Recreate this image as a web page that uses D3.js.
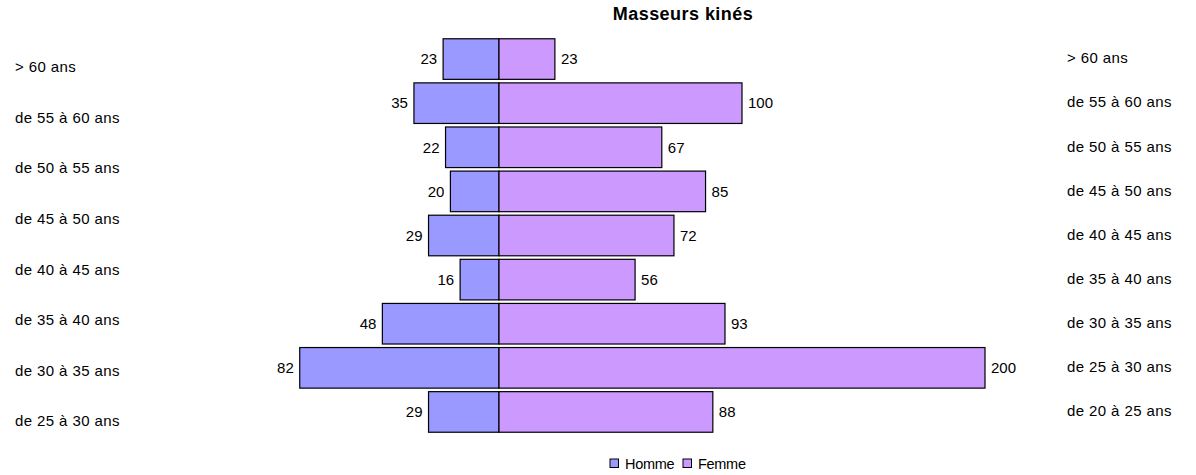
<!DOCTYPE html>
<html>
<head>
<meta charset="utf-8">
<script src="https://cdn.jsdelivr.net/npm/d3@7"></script>
<style>
  body { margin: 0; background: #fff; }
  text { font-family: "Liberation Sans", Arial, sans-serif; fill: #000; }
</style>
</head>
<body>
<svg width="1196" height="475"></svg>
<script>
const categories = ['> 60 ans', 'de 55 à 60 ans', 'de 50 à 55 ans', 'de 45 à 50 ans', 'de 40 à 45 ans',
  'de 35 à 40 ans', 'de 30 à 35 ans', 'de 25 à 30 ans', 'de 20 à 25 ans']
const homme = [23, 35, 22, 20, 29, 16, 48, 82, 29]
const femme = [23, 100, 67, 85, 72, 56, 93, 200, 88]
// the left-hand labels of the original are shifted and stop one row early
const leftLabels = ['> 60 ans', 'de 55 à 60 ans', 'de 50 à 55 ans', 'de 45 à 50 ans', 'de 40 à 45 ans',
  'de 35 à 40 ans', 'de 30 à 35 ans', 'de 25 à 30 ans']
const seriesNames = ['Homme', 'Femme']
const colors = {Homme: '#9999ff', Femme: '#cc99ff'}

const svg = d3.select('svg')
const x0 = 499

const xScale = d3.scaleLinear()
  .domain([0, 200])
  .range([0, 486])

const yScale = d3.scaleBand()
  .domain(categories)
  .range([37, 434])
  .paddingInner(0.08)
  .paddingOuter(0.04)

const leftScale = d3.scalePoint()
  .domain(leftLabels)
  .range([67, 421])

const data = categories.map((c, i) => ({cat: c, h: homme[i], f: femme[i]}))

svg.append('text')
  .attr('x', 683)
  .attr('y', 20)
  .attr('text-anchor', 'middle')
  .style('font-size', '18px')
  .style('font-weight', 'bold')
  .style('letter-spacing', '0.45px')
  .text('Masseurs kinés')

const rows = svg.append('g')

rows.selectAll('rect.h')
  .data(data)
  .enter()
  .append('rect')
  .attr('class', 'h')
  .attr('x', d => x0 - xScale(d.h))
  .attr('y', d => yScale(d.cat))
  .attr('width', d => xScale(d.h))
  .attr('height', yScale.bandwidth())
  .attr('fill', colors.Homme)
  .attr('stroke', '#000')
  .attr('stroke-width', 1.2)

rows.selectAll('rect.f')
  .data(data)
  .enter()
  .append('rect')
  .attr('class', 'f')
  .attr('x', x0)
  .attr('y', d => yScale(d.cat))
  .attr('width', d => xScale(d.f))
  .attr('height', yScale.bandwidth())
  .attr('fill', colors.Femme)
  .attr('stroke', '#000')
  .attr('stroke-width', 1.2)

rows.selectAll('text.hv')
  .data(data)
  .enter()
  .append('text')
  .attr('x', d => x0 - xScale(d.h) - 6)
  .attr('y', d => yScale(d.cat) + yScale.bandwidth() / 2)
  .attr('dy', '0.35em')
  .attr('text-anchor', 'end')
  .style('font-size', '15px')
  .text(d => d.h)

rows.selectAll('text.fv')
  .data(data)
  .enter()
  .append('text')
  .attr('x', d => x0 + xScale(d.f) + 6)
  .attr('y', d => yScale(d.cat) + yScale.bandwidth() / 2)
  .attr('dy', '0.35em')
  .style('font-size', '15px')
  .text(d => d.f)

// right labels follow the bars
svg.append('g').selectAll('text')
  .data(categories)
  .enter()
  .append('text')
  .attr('x', 1067)
  .attr('y', d => yScale(d) + yScale.bandwidth() / 2 - 1)
  .attr('dy', '0.35em')
  .style('font-size', '15px')
  .style('letter-spacing', '0.4px')
  .text(d => d)

// left labels on their own spacing
svg.append('g').selectAll('text')
  .data(leftLabels)
  .enter()
  .append('text')
  .attr('x', 15)
  .attr('y', d => leftScale(d))
  .attr('dy', '0.35em')
  .style('font-size', '15px')
  .style('letter-spacing', '0.4px')
  .text(d => d)

const legend = svg.append('g')
const legendX = [610, 683]
seriesNames.forEach((s, i) => {
  legend.append('rect')
    .attr('x', legendX[i])
    .attr('y', 459)
    .attr('width', 8.5)
    .attr('height', 8.5)
    .attr('fill', colors[s])
    .attr('stroke', '#000')
  legend.append('text')
    .attr('x', legendX[i] + 15)
    .attr('y', 469)
    .style('font-size', '14.5px')
    .style('letter-spacing', '-0.3px')
    .text(s)
})
</script>
</body>
</html>
